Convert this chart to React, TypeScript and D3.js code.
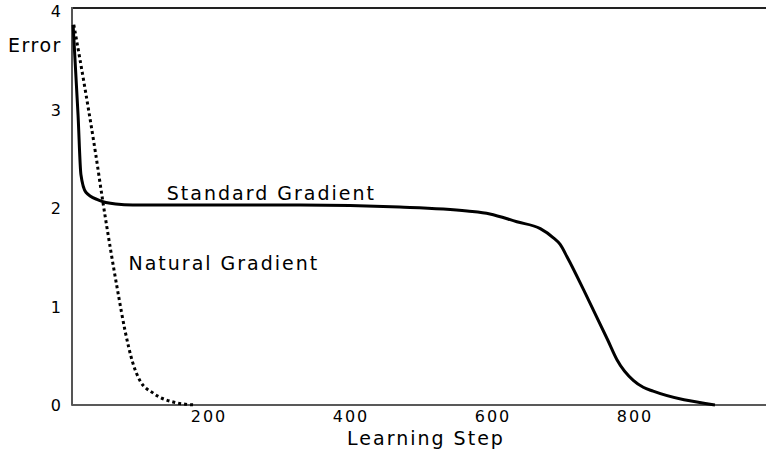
import { useEffect, useRef } from 'react';
import * as d3 from 'd3';

// learning steps / error values
const standardSteps = [10, 17, 21, 28, 46, 70, 94, 200, 330, 470, 565, 597, 635, 668, 686, 696, 706, 735, 763, 776, 799, 813, 827, 914];
const standardError = [3.86, 2.94, 2.34, 2.16, 2.08, 2.04, 2.03, 2.03, 2.03, 2.01, 1.97, 1.94, 1.86, 1.79, 1.70, 1.63, 1.50, 1.08, 0.66, 0.46, 0.25, 0.18, 0.14, 0.0];

const naturalSteps = [11, 28, 42, 52, 73, 83, 94, 104, 123, 151, 182];
const naturalError = [3.86, 3.16, 2.54, 2.06, 1.15, 0.76, 0.43, 0.25, 0.12, 0.03, 0.0];

const xTicks = [200, 400, 600, 800];
const yTicks = [0, 1, 2, 3, 4];

const curveLabels = [
  { text: 'Standard Gradient', step: 142, value: 2.08 },
  { text: 'Natural Gradient', step: 88, value: 1.37 },
];

export default function App() {
  const ref = useRef<SVGSVGElement>(null);

  useEffect(() => {
    if (!ref.current) return;
    const svg = d3.select(ref.current);
    svg.selectAll('*').remove();

    const x = d3.scaleLinear().domain([0, 1000]).range([66, 776]);
    const y = d3.scaleLinear().domain([0, 4]).range([405, 11]);
    const font = '"DejaVu Sans", sans-serif';
    const left = 72;
    const right = 766;

    // frame
    svg.append('line')
      .attr('x1', left).attr('x2', right).attr('y1', 8).attr('y2', 8)
      .attr('stroke', '#222').attr('stroke-width', 2);
    svg.append('line')
      .attr('x1', left).attr('x2', right).attr('y1', y(0)).attr('y2', y(0))
      .attr('stroke', '#222').attr('stroke-width', 1.5);
    svg.append('line')
      .attr('x1', left).attr('x2', left).attr('y1', 7).attr('y2', y(0) + 0.75)
      .attr('stroke', '#555').attr('stroke-width', 2);

    // y ticks
    svg.selectAll('.ytick')
      .data(yTicks)
      .enter()
      .append('text')
      .attr('x', 63)
      .attr('y', d => y(d) + 6)
      .attr('text-anchor', 'end')
      .style('font-family', font)
      .style('font-size', '16px')
      .style('letter-spacing', '2px')
      .text(d => d);

    // x ticks
    svg.selectAll('.xtick')
      .data(xTicks)
      .enter()
      .append('text')
      .attr('x', d => x(d) + 1)
      .attr('y', 422)
      .attr('text-anchor', 'middle')
      .style('font-family', font)
      .style('font-size', '16px')
      .style('letter-spacing', '2px')
      .text(d => d);

    // axis titles
    svg.append('text')
      .attr('x', 8).attr('y', 52)
      .style('font-family', font).style('font-size', '19px').style('letter-spacing', '1.5px')
      .text('Error');
    svg.append('text')
      .attr('x', 426).attr('y', 445)
      .attr('text-anchor', 'middle')
      .style('font-family', font).style('font-size', '19px').style('letter-spacing', '2px')
      .text('Learning Step');

    const line = d3.line<[number, number]>()
      .x(d => x(d[0]))
      .y(d => y(d[1]))
      .curve(d3.curveMonotoneX);

    const natural = naturalSteps.map((s, i) => [s, naturalError[i]] as [number, number]);
    const standard = standardSteps.map((s, i) => [s, standardError[i]] as [number, number]);

    svg.append('path')
      .attr('d', line(natural))
      .attr('fill', 'none')
      .attr('stroke', '#000')
      .attr('stroke-width', 3)
      .attr('stroke-dasharray', '3 3');

    svg.append('path')
      .attr('d', line(standard))
      .attr('fill', 'none')
      .attr('stroke', '#000')
      .attr('stroke-width', 3)
      .attr('stroke-linejoin', 'round');

    // curve labels
    svg.selectAll('.clabel')
      .data(curveLabels)
      .enter()
      .append('text')
      .attr('x', d => x(d.step))
      .attr('y', d => y(d.value))
      .style('font-family', font)
      .style('font-size', '19px')
      .style('letter-spacing', '2px')
      .text(d => d.text);
  }, []);

  return (
    <svg
      ref={ref}
      width={766}
      height={457}
      style={{ position: 'absolute', left: 0, top: 0, background: '#fff' }}
    />
  );
}
